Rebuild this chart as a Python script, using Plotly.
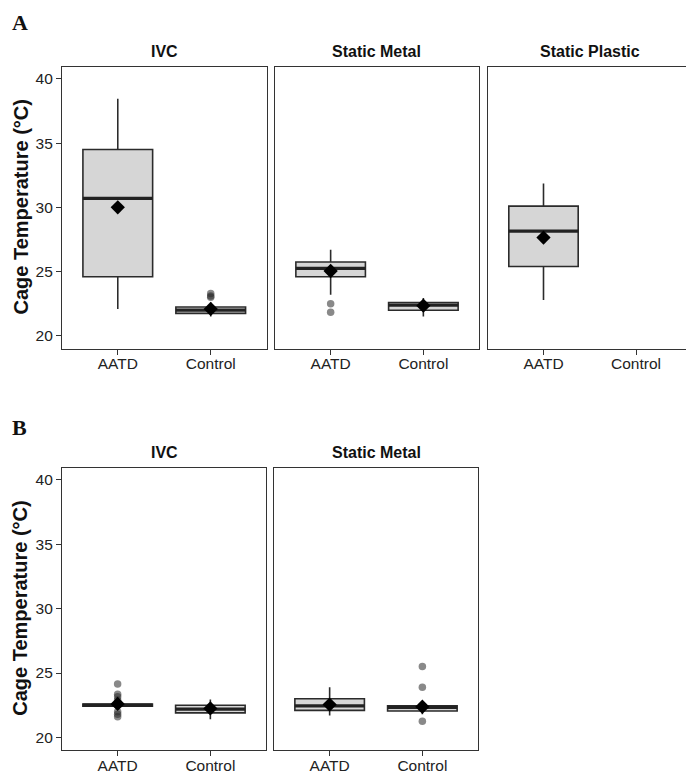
import plotly.graph_objects as go

# Panels: facet title per subplot, A = top row, B = bottom row
panel_names = ["IVC", "Static Metal", "Static Plastic", "IVC", "Static Metal"]
categories = ["AATD", "Control"]

# Box summary statistics (one entry per box)
box_panel = [0, 0, 1, 1, 2, 3, 3, 4, 4]
box_group = ["AATD", "Control", "AATD", "Control", "AATD", "AATD", "Control", "AATD", "Control"]
box_lower = [22.1, 21.5, 23.2, 21.5, 22.8, 22.2, 21.4, 21.7, 21.8]
box_q1 = [24.6, 21.75, 24.6, 22.0, 25.4, 22.42, 21.9, 22.1, 22.05]
box_median = [30.7, 22.0, 25.25, 22.4, 28.15, 22.5, 22.2, 22.45, 22.33]
box_q3 = [34.5, 22.25, 25.75, 22.6, 30.1, 22.58, 22.5, 23.0, 22.45]
box_upper = [38.45, 22.6, 26.7, 22.95, 31.85, 22.8, 22.95, 23.9, 22.45]
box_mean = [30.0, 22.1, 25.05, 22.35, 27.65, 22.6, 22.25, 22.55, 22.38]

# Outlier points
out_panel = [0, 0, 0, 1, 1, 3, 3, 3, 3, 3, 3, 3, 4, 4, 4]
out_group = ["Control", "Control", "Control", "AATD", "AATD",
             "AATD", "AATD", "AATD", "AATD", "AATD", "AATD", "AATD",
             "Control", "Control", "Control"]
out_value = [23.3, 23.1, 23.0, 22.5, 21.85,
             24.15, 23.35, 23.15, 22.9, 22.0, 21.8, 21.6,
             25.5, 23.9, 21.25]

# page body has an 8px margin, so the figure is 8px smaller and positions shifted
OFF = 8
W, H = 694 - OFF, 775 - OFF
x_px = [(62, 266.5), (275, 479), (488, 691.5), (62, 266), (274, 478)]
row_of = [0, 0, 0, 1, 1]
y_px = [(66.5, 348.5), (467.5, 750)]
y_range = [19.02, 40.96]
box_w = 0.75


def px_x(v):
    return (v - OFF) / W


def px_y(v):
    return 1 - (v - OFF) / H


fig = go.Figure()

for i in range(len(box_panel)):
    p = box_panel[i]
    ax = "" if p == 0 else str(p + 1)
    pos = categories.index(box_group[i]) + 1
    fig.add_trace(go.Box(
        x=[pos], q1=[box_q1[i]], median=[box_median[i]], q3=[box_q3[i]],
        lowerfence=[box_lower[i]], upperfence=[box_upper[i]],
        width=box_w, whiskerwidth=0, boxpoints=False,
        fillcolor="#d6d6d6", line=dict(color="#2b2b2b", width=1.6),
        xaxis="x" + ax, yaxis="y" + ax, showlegend=False, hoverinfo="skip"
    ))
    # thicker median bar (ggplot style)
    fig.add_trace(go.Scatter(
        x=[pos - box_w / 2, pos + box_w / 2], y=[box_median[i]] * 2,
        mode="lines", line=dict(color="#222222", width=3.2),
        xaxis="x" + ax, yaxis="y" + ax, showlegend=False, hoverinfo="skip"
    ))

# outliers
for p in range(len(panel_names)):
    ax = "" if p == 0 else str(p + 1)
    xs = [categories.index(g) + 1 for q, g in zip(out_panel, out_group) if q == p]
    ys = [v for q, v in zip(out_panel, out_value) if q == p]
    if xs:
        fig.add_trace(go.Scatter(
            x=xs, y=ys, mode="markers",
            marker=dict(color="rgba(40,40,40,0.55)", size=7.5),
            xaxis="x" + ax, yaxis="y" + ax, showlegend=False
        ))

# means as diamonds
for p in range(len(panel_names)):
    ax = "" if p == 0 else str(p + 1)
    xs = [categories.index(g) + 1 for q, g in zip(box_panel, box_group) if q == p]
    ys = [m for q, m in zip(box_panel, box_mean) if q == p]
    fig.add_trace(go.Scatter(
        x=xs, y=ys, mode="markers",
        marker=dict(color="black", size=11, symbol="diamond"),
        xaxis="x" + ax, yaxis="y" + ax, showlegend=False
    ))

axis_font = dict(family="Liberation Sans, Arial, sans-serif", size=15.5, color="#222222")
layout = {}
annotations = []
for p, name in enumerate(panel_names):
    ax = "" if p == 0 else str(p + 1)
    x0, x1 = x_px[p]
    yt, yb = y_px[row_of[p]]
    left_col = p in (0, 3)
    layout["xaxis" + ax] = dict(
        domain=[px_x(x0), px_x(x1)], anchor="y" + ax, range=[0.4, 2.6],
        tickvals=[1, 2], ticktext=categories, ticks="outside", ticklen=5,
        ticklabelstandoff=-4,
        tickcolor="#333333", tickfont=axis_font, showline=True, mirror=True,
        linecolor="#333333", linewidth=1.2, showgrid=False, zeroline=False,
        automargin=False, fixedrange=True
    )
    layout["yaxis" + ax] = dict(
        domain=[px_y(yb), px_y(yt)], anchor="x" + ax, range=y_range,
        tickvals=[20, 25, 30, 35, 40], showticklabels=left_col,
        ticks="outside" if left_col else "", ticklen=5, tickcolor="#333333",
        tickfont=axis_font, showline=True, mirror=True, linecolor="#333333",
        linewidth=1.2, showgrid=False, zeroline=False, automargin=False,
        fixedrange=True
    )
    # facet title
    annotations.append(dict(
        x=px_x((x0 + x1) / 2), y=px_y(yt - 15), xref="paper", yref="paper",
        text="<b>" + name + "</b>", showarrow=False, xanchor="center", yanchor="middle",
        font=dict(family="Liberation Sans, Arial, sans-serif", size=16, color="#111111")
    ))

# y axis titles and panel letters
for r, letter in enumerate(["A", "B"]):
    yt, yb = y_px[r]
    annotations.append(dict(
        x=px_x(20), y=px_y((yt + yb) / 2), xref="paper", yref="paper",
        text="<b>Cage Temperature (°C)</b>", textangle=-90, showarrow=False,
        xanchor="center", yanchor="middle",
        font=dict(family="Liberation Sans, Arial, sans-serif", size=20, color="#111111")
    ))
    annotations.append(dict(
        x=2 / W, y=1.0 if r == 0 else px_y(427), xref="paper", yref="paper",
        text="<b>" + letter + "</b>", showarrow=False, xanchor="left",
        yanchor="top" if r == 0 else "middle",
        font=dict(family="Liberation Serif, Times New Roman, serif", size=22, color="#111111")
    ))

fig.update_layout(
    width=W, height=H, margin=dict(l=0, r=0, t=0, b=0),
    paper_bgcolor="white", plot_bgcolor="white",
    annotations=annotations, showlegend=False, **layout
)

fig.write_html("out.html")
